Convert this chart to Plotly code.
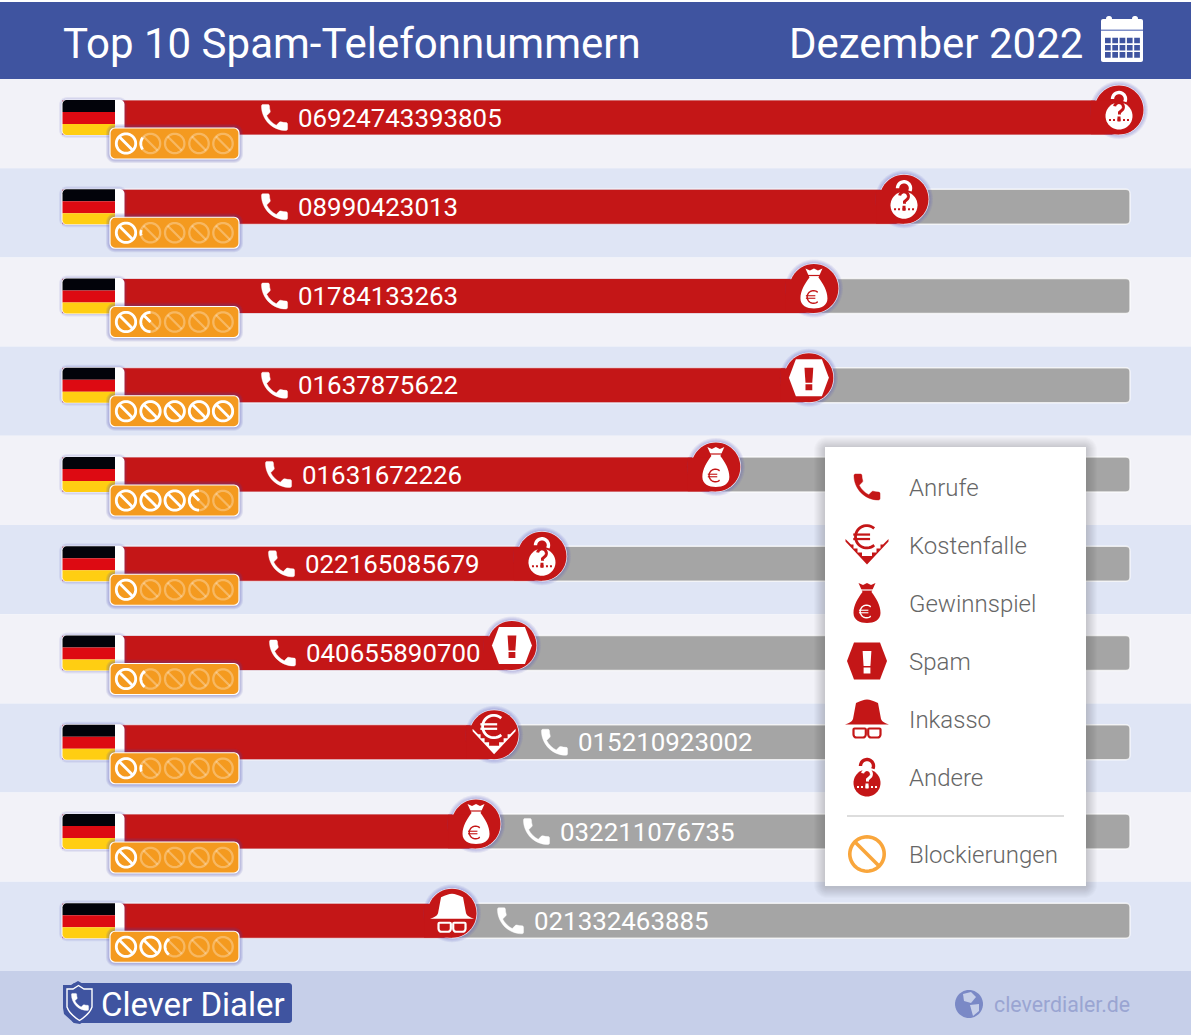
import math, re
import plotly.graph_objects as go

# ---------- data ----------
PHONE_NUMBERS = ["06924743393805", "08990423013", "01784133263", "01637875622", "01631672226",
                 "022165085679", "040655890700", "015210923002", "032211076735", "021332463885"]
CALL_INDEX = [100.0, 79.66, 71.14, 70.66, 61.86, 45.41, 42.57, 40.88, 39.17, 36.90]
CATEGORY = ["Andere", "Andere", "Gewinnspiel", "Spam", "Gewinnspiel",
            "Andere", "Spam", "Kostenfalle", "Gewinnspiel", "Inkasso"]
BLOCK_RATING = [1.1, 1.02, 1.5, 5.0, 3.5, 1.0, 1.2, 1.03, 1.0, 2.2]
TRACK_MAX = 101.04
LEGEND_LABELS = ["Anrufe", "Kostenfalle", "Gewinnspiel", "Spam", "Inkasso", "Andere"]
TITLE = "Top 10 Spam-Telefonnummern"
PERIOD = "Dezember 2022"

# ---------- layout constants ----------
W, H = 1192, 1036
X0, PX_PER_UNIT = 62.0, 10.57
Y0, ROW = 117.5, 89.25
LABEL_TEXT_X = [298, 298, 298, 298, 302, 305, 306, 578, 560, 534]
RED = "#c41617"; ORANGE = "#f49a1f"; BLUE = "#3f54a0"; GREY = "#a5a5a5"
GLOW = "rgba(80,80,190,0.09)"
FONT = "Roboto"

# ---------- path helpers ----------
TOK = re.compile(r"[MmLlHhVvCcZz]|-?(?:\d+\.\d*|\.\d+|\d+)")
def emit(path, ox=0.0, oy=0.0, s=1.0):
    """absolute pixel path with y up (plotly pixel-sized shapes)"""
    t = TOK.findall(path); i = 0; out = []; cx = cy = 0.0; cmd = None
    def pt(x, y): return f"{ox + s*x:.2f},{-(oy + s*y):.2f}"
    while i < len(t):
        if re.match(r"[A-Za-z]", t[i]):
            cmd = t[i]; i += 1
            if cmd in "Zz":
                out.append("Z"); continue
        rel = cmd.islower(); c = cmd.upper()
        if c in "ML":
            x, y = float(t[i]), float(t[i+1]); i += 2
            if rel: x += cx; y += cy
            out.append(("M" if c == "M" else "L") + pt(x, y)); cx, cy = x, y
            if cmd == "M": cmd = "L"
            if cmd == "m": cmd = "l"
        elif c == "H":
            x = float(t[i]); i += 1
            if rel: x += cx
            out.append("L" + pt(x, cy)); cx = x
        elif c == "V":
            y = float(t[i]); i += 1
            if rel: y += cy
            out.append("L" + pt(cx, y)); cy = y
        elif c == "C":
            v = [float(a) for a in t[i:i+6]]; i += 6
            if rel:
                v = [a + (cx if k % 2 == 0 else cy) for k, a in enumerate(v)]
            out.append("C" + " ".join(pt(v[k], v[k+1]) for k in (0, 2, 4)))
            cx, cy = v[4], v[5]
    return " ".join(out)

def poly(pts, close=True):
    return "M" + " L".join(f"{x:.2f} {y:.2f}" for x, y in pts) + (" Z" if close else "")

def rr(x0, y0, x1, y1, r=4, rtl=None, rtr=None, rbr=None, rbl=None):
    a, b, c, d = [r if v is None else v for v in (rtl, rtr, rbr, rbl)]
    k = 0.45
    return (f"M{x0+a} {y0} L{x1-b} {y0} C{x1-b*k} {y0} {x1} {y0+b*k} {x1} {y0+b} "
            f"L{x1} {y1-c} C{x1} {y1-c*k} {x1-c*k} {y1} {x1-c} {y1} "
            f"L{x0+d} {y1} C{x0+d*k} {y1} {x0} {y1-d*k} {x0} {y1-d} "
            f"L{x0} {y0+a} C{x0} {y0+a*k} {x0+a*k} {y0} {x0+a} {y0} Z")

def circ(cx, cy, r, n=48):
    return poly([(cx + r*math.cos(2*math.pi*i/n), cy + r*math.sin(2*math.pi*i/n)) for i in range(n)])

def arc(cx, cy, r, a0, a1, n=28):
    return [(cx + r*math.cos(math.radians(a0 + (a1-a0)*i/n)),
             cy + r*math.sin(math.radians(a0 + (a1-a0)*i/n))) for i in range(n+1)]

PHONE = ("M6.62 10.79c1.44 2.83 3.76 5.14 6.59 6.59l2.2-2.2c.27-.27.67-.36 1.02-.24 1.12.37 2.33.57 3.57.57"
         ".55 0 1 .45 1 1V20c0 .55-.45 1-1 1-9.39 0-17-7.61-17-17 0-.55.45-1 1-1h3.5c.55 0 1 .45 1 1 "
         "0 1.25.2 2.45.57 3.57.11.35.03.74-.25 1.02l-2.2 2.2z")

shapes = []
def add(path, fill=None, line=None, lw=0, anchor=None, ox=0, oy=0, s=1.0, layer="above"):
    xa, xr, ya, yr = anchor if anchor else (0, "paper", 1, "paper")
    shapes.append(dict(type="path", path=emit(path, ox, oy, s), xsizemode="pixel", ysizemode="pixel",
                       xanchor=xa, yanchor=ya, xref=xr, yref=yr, layer=layer,
                       fillcolor=fill or "rgba(0,0,0,0)",
                       line=dict(color=line or "rgba(0,0,0,0)", width=lw)))

def euro(cx, cy, r, lw, col):
    items = [(poly(arc(cx, cy, r, 48, 312), False), None, col, lw)]
    for dy in (-0.2*r, 0.2*r):
        items.append((poly([(cx-1.2*r, cy+dy), (cx+0.3*r, cy+dy)], False), None, col, lw*0.8))
    return items

def icon(name, fg, bg):
    if name == "Kostenfalle":
        right = [(21.5, -6), (19, -3.5), (16, -0.5), (13.5, -0.5), (13.5, 3.5), (9.5, 3.5), (9.5, 7.5), (5, 7.5), (5, 11), (0, 11)]
        left = [(-x, y) for x, y in right[-2::-1]]
        return [(poly([(-21.5, -3.5), (0, 19.5), (21.5, -3.5)] + right + left), fg, None, 0)] + euro(-0.3, -8.2, 11.2, 2.8, fg)
    if name == "Gewinnspiel":
        bag = ("M-8.5 -20 L-4 -18 L0 -20 L4 -18 L8.5 -20 L4.5 -11 C9 -5 13.5 2 13.5 10 C13.5 17 7 20 0 20 "
               "C-7 20 -13.5 17 -13.5 10 C-13.5 2 -9 -5 -4.5 -11 Z")
        return [(bag, fg, None, 0), (poly([(-6, -13), (6, -13)], False), None, bg, 1.2)] + euro(-0.5, 8.5, 6.3, 1.4, bg)
    if name == "Spam":
        hexa = poly([(-20, 0), (-13, -18.5), (13, -18.5), (20, 0), (13, 18.5), (-13, 18.5)])
        return [(hexa, fg, None, 0),
                (poly([(-4.4, -10), (4.4, -10), (3.4, 5), (-3.4, 5)]), bg, None, 0),
                (poly([(-3.4, 6.5), (3.4, 6.5), (3.4, 12.5), (-3.4, 12.5)]), bg, None, 0)]
    if name == "Inkasso":
        hat = ("M-22 5.5 C-18 4 -15 3 -14 0 L-11 -16 C-6 -18 -3 -19.5 0 -19.5 C3 -19.5 6 -18 11 -16 "
               "L14 0 C15 3 18 4 22 5.5 Z")
        return [(hat, fg, None, 0),
                (rr(-13.5, 9.5, -1.2, 18.5, 1, rbl=3, rbr=3), None, fg, 2.2),
                (rr(1.2, 9.5, 13.5, 18.5, 1, rbl=3, rbr=3), None, fg, 2.2)]
    if name == "Andere":
        items = [(circ(0, 6, 13.5), fg, None, 0),
                 (poly(arc(0, -11, 6.5, 180, 385), False), None, fg, 3.4),
                 (poly(arc(0, -3, 4.4, 190, 400) + [(0.5, 2.5), (0.5, 4.5)], False), None, bg, 3)]
        for x in (-9, -5, 0, 5, 9):
            w = 1.5 if x == 0 else 1
            items.append((rr(x-w, 10-w, x+w, 10+w, 0.3), bg, None, 0))
        items.append((rr(-1.5, 6.5, 1.5, 11, 0.3), bg, None, 0))
        return items

def place_icon(name, fg, bg, anchor=None, ox=0, oy=0):
    for p, fill, line, lw in icon(name, fg, bg):
        add(p, fill, line, lw, anchor, ox, oy)

def place_phone(col, anchor, ox, oy, s=1.45):
    add(PHONE, col, col, 0.4, anchor, ox - 12*s, oy - 12*s, s)

def glow(x0, y0, x1, y1, r, anchor=None, layer="above", color=GLOW, n=4):
    for k in range(n, 0, -1):
        add(rr(x0-k, y0-k, x1+k, y1+k, r+k), color, anchor=anchor, layer=layer)

def ban(cx, cy, frac, anchor):
    R = 9.7
    d = R * 0.72
    ring = circ(cx, cy, R)
    diag = poly([(cx-d, cy-d), (cx+d, cy+d)], False)
    add(ring, None, "rgba(255,255,255,0.3)", 2.3, anchor)
    add(diag, None, "rgba(255,255,255,0.3)", 2.3, anchor)
    if frac <= 0:
        return
    if frac >= 1:
        add(ring, None, "#ffffff", 2.8, anchor)
        add(diag, None, "#ffffff", 2.8, anchor)
        return
    lim = -R + 2*R*frac
    a = math.degrees(math.acos(max(-1, min(1, lim/R))))
    add(poly(arc(cx, cy, R, a, 360-a), False), None, "#ffffff", 2.8, anchor)
    if lim > -d:
        add(poly([(cx-d, cy-d), (cx+lim, cy+lim)], False), None, "#ffffff", 2.8, anchor)

# ---------- static page areas ----------
for i in range(10):
    add(rr(0, 79+89.2*i, 1191, 79+89.2*(i+1), 0), "#f2f2f8" if i % 2 == 0 else "#dfe5f5", layer="below")
add(rr(0, 2, 1191, 79, 0), BLUE, layer="below")
add(rr(0, 971, 1191, 1035, 0), "#c6cfe9", layer="below")

annotations = []
def text(t, x, y, size, color, weight=400, yref="paper"):
    annotations.append(dict(text=t, x=(x-2)/W, xref="paper", y=(1 - y/H) if yref == "paper" else y, yref=yref,
                            xanchor="left", yanchor="middle", showarrow=False,
                            font=dict(family=FONT, size=size, color=color, weight=weight)))

text(TITLE, 63, 43.5, 42, "#ffffff", 400)
text(PERIOD, 789, 43.5, 42, "#ffffff", 400)

# calendar
add(rr(1101, 19, 1143, 62, 2), "#ffffff")
for rx in (1109, 1135):
    add(rr(rx-3, 16, rx+3, 24, 2.5), "#ffffff")
add(rr(1101, 29.5, 1143, 31, 0), "#8090c8")
for r_ in range(3):
    for c_ in range(5):
        x = 1105 + 7.3*c_; y = 37.7 + 7.2*r_
        add(rr(x, y, x+5.7, y+5.6, 0), BLUE)

# ---------- rows ----------
for i, v in enumerate(CALL_INDEX):
    a = (0, "paper", i, "y")
    av = (v, "x", i, "y")
    # flag
    glow(62, -17.5, 124, 17.5, 5, a, n=3)
    add(rr(61.5, -18, 124.5, 18, 5), "#ffffff", anchor=a)
    add(rr(62.5, -17.5, 115, -5.5, 0, rtl=4), "#02030a", anchor=a)
    add(rr(62.5, -5.5, 115, 6.5, 0), "#dd0a12", anchor=a)
    add(rr(62.5, 6.5, 115, 17.5, 0, rbl=4), "#ffce12", anchor=a)
    # end circle, merged with the bar
    for k in (4, 3, 2, 1):
        add(circ(0, -7.5, 25+k), GLOW, anchor=av)
    add(circ(0, -7.5, 25.2), "#eef0fa", anchor=av)
    add(circ(0, -7.5, 24.5), RED, anchor=av)
    add(rr(-28, -16.8, 0, 16.8, 0), RED, anchor=av)
    place_icon(CATEGORY[i], "#ffffff", RED, av, 0, -7.5)
    # phone icon + number
    place_phone("#ffffff", a, LABEL_TEXT_X[i]-23.5, 0)
    text(PHONE_NUMBERS[i], LABEL_TEXT_X[i], i, 25.9, "#ffffff", 400, yref="y")
    # blocking badge
    for k in (4, 3, 2, 1):
        add(rr(110-k, 10.5-k, 239+k, 41.5+k, 5+k), "rgba(70,70,170,0.11)", anchor=a)
    add(rr(110, 10.5, 239, 41.5, 5), ORANGE, "#ffffff", 1.2, a)
    for b, cx in enumerate((126, 150.5, 174.7, 199, 223)):
        ban(cx, 26, max(0, min(1, BLOCK_RATING[i]-b)), a)

# ---------- legend card ----------
for k in range(11, 0, -1):
    add(rr(825-k, 447-k+1, 1086+k, 886+k+1, 2+k), "rgba(40,40,70,0.019)")
add(rr(825, 447, 1086, 886, 0), "#ffffff")
place_phone(RED, None, 867, 487)
LEG_Y0, LEG_STEP = 487, 58
for j, lab in enumerate(LEGEND_LABELS):
    y = LEG_Y0 + j*LEG_STEP
    if j:
        place_icon(lab, RED, "#ffffff", None, 867, y)
    text(lab, 909, y+1, 24, "#666666", 300)
add(poly([(847, 816), (1064, 816)], False), None, "#bcbcbc", 1.2)
add(circ(867, 854, 17.2), None, "#f9a63c", 3.6)
add(poly([(855.5, 842.5), (878.5, 865.5)], False), None, "#f9a63c", 3.6)
text("Blockierungen", 909, 855, 24, "#666666", 300)

# ---------- footer ----------
add(rr(72, 983, 292, 1023, 3), BLUE)
add("M63 985 L71 985 L78 981 L85 985 L95 985 L95 1008 C93 1014 87 1020 80 1024 L74 1023 L64 1014 L63 1008 Z", BLUE)
add("M67 989 L73 989 L78.5 985.5 L84 989 L92 989 L92 1007 C90 1013 85 1017 79.5 1020.5 C74 1017 69 1013 67 1007 Z",
    None, "#ffffff", 1.4)
place_phone("#ffffff", None, 80, 1002, 0.95)
text("Clever Dialer", 100.5, 1004, 33, "#ffffff", 400)
add(circ(969, 1004, 14), "#7a89c6")
add("M963 994 L971 992 L976 997 L971 1003 L964 1001 Z", "#c6cfe9")
add("M970 1005 L979 1004 L979 1011 L973 1016 Z", "#c6cfe9")
text("cleverdialer.de", 994, 1004, 21.3, "#9aa5d2", 400)

# ---------- figure ----------
rows = list(range(10))
fig = go.Figure()
fig.add_bar(y=rows, x=[TRACK_MAX]*10, orientation="h", width=35/ROW, hoverinfo="skip",
            marker=dict(color=GREY, line=dict(color="rgba(255,255,255,0.75)", width=1.4)))
fig.add_bar(y=rows, x=CALL_INDEX, orientation="h", width=35/ROW, customdata=PHONE_NUMBERS,
            hovertemplate="%{customdata}: %{x}<extra></extra>",
            marker=dict(color=RED, line=dict(color="#e8e8f4", width=0.8)))
fig.update_layout(
    width=W, height=H, autosize=False, margin=dict(l=0, r=0, t=0, b=0, pad=0),
    paper_bgcolor="#ffffff", plot_bgcolor="rgba(0,0,0,0)", showlegend=False,
    barmode="overlay", barcornerradius=4, shapes=shapes, annotations=annotations,
    xaxis=dict(visible=False, fixedrange=True, range=[-X0/PX_PER_UNIT, (W-X0)/PX_PER_UNIT]),
    yaxis=dict(visible=False, fixedrange=True, range=[(H-Y0)/ROW, -Y0/ROW]),
    font=dict(family=FONT),
)
fig.write_html("out.html", config={"displayModeBar": False},
               post_script="document.body.style.margin='0';document.documentElement.style.overflow='hidden';")
